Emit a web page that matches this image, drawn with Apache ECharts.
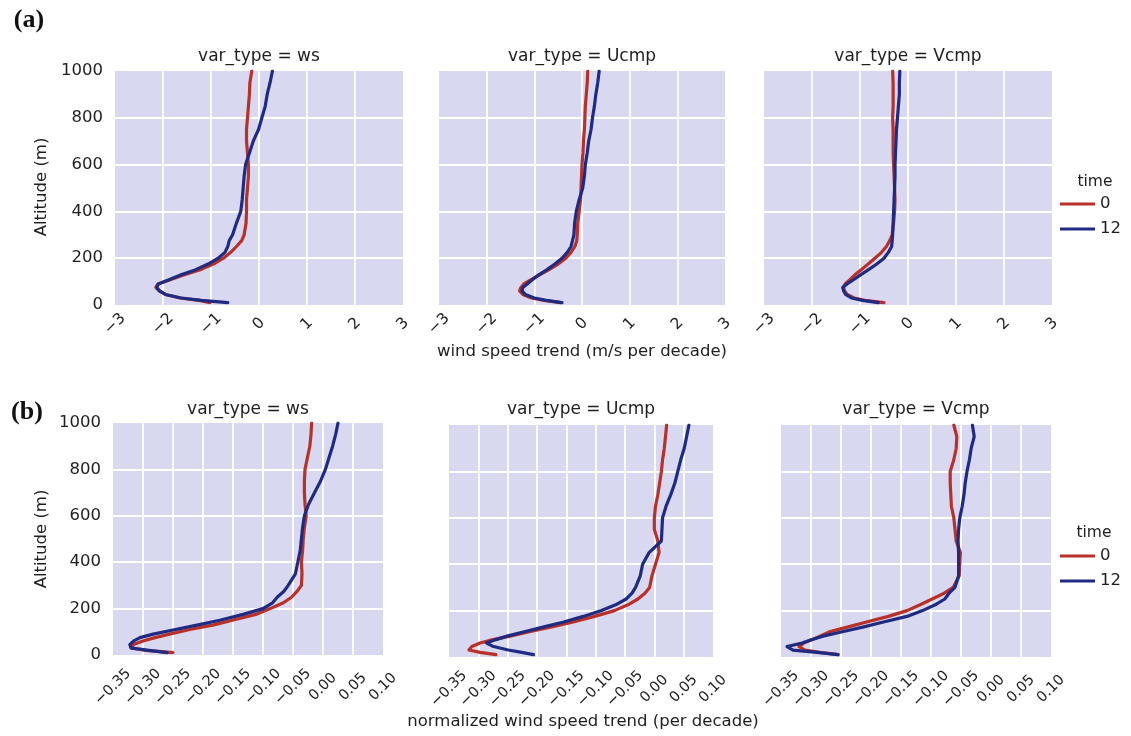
<!DOCTYPE html>
<html>
<head>
<meta charset="utf-8">
<script src="https://cdn.jsdelivr.net/npm/echarts@6/dist/echarts.min.js"></script>
<style>
html,body{margin:0;padding:0;background:#ffffff;}
#chart{width:1131px;height:736px;}
</style>
</head>
<body>
<div id="chart"></div>
<script>
// ---------------- DATA ----------------
const altitudes = [10,20,30,45,60,75,90,110,130,150,175,200,225,250,275,300,350,400,450,500,550,600,650,700,750,800,850,900,950,1000];
const varTypes = ['ws','Ucmp','Vcmp'];
const timeNames = ['0','12'];
const panelLabels = ['(a)','(b)'];
const xAxisNames = ['wind speed trend (m/s per decade)','normalized wind speed trend (per decade)'];
const yAxisName = 'Altitude (m)';
const legendTitle = 'time';

// (a) wind speed trend (m/s per decade)
const a_ws_t0   = [-1.02,-1.25,-1.65,-1.95,-2.08,-2.15,-2.10,-1.82,-1.54,-1.24,-0.95,-0.74,-0.59,-0.47,-0.36,-0.31,-0.27,-0.26,-0.26,-0.24,-0.22,-0.22,-0.24,-0.26,-0.26,-0.24,-0.22,-0.20,-0.19,-0.15];
const a_ws_t12  = [-0.65,-1.20,-1.62,-1.95,-2.07,-2.13,-2.10,-1.85,-1.61,-1.33,-1.06,-0.85,-0.71,-0.65,-0.62,-0.55,-0.47,-0.38,-0.35,-0.33,-0.31,-0.28,-0.20,-0.12,-0.01,0.06,0.13,0.17,0.23,0.28];
const a_U_t0    = [-0.45,-0.80,-1.06,-1.24,-1.31,-1.28,-1.22,-1.05,-0.88,-0.70,-0.50,-0.34,-0.23,-0.15,-0.11,-0.10,-0.09,-0.06,-0.03,-0.02,-0.01,0.00,0.02,0.03,0.05,0.06,0.07,0.09,0.11,0.12];
const a_U_t12   = [-0.42,-0.75,-1.00,-1.19,-1.26,-1.24,-1.15,-1.03,-0.90,-0.74,-0.57,-0.42,-0.31,-0.23,-0.20,-0.17,-0.155,-0.12,-0.06,0.015,0.05,0.07,0.11,0.14,0.19,0.22,0.26,0.29,0.33,0.36];
const a_V_t0    = [-0.50,-0.90,-1.12,-1.27,-1.32,-1.35,-1.31,-1.20,-1.10,-0.98,-0.83,-0.69,-0.55,-0.45,-0.38,-0.33,-0.30,-0.28,-0.27,-0.28,-0.29,-0.30,-0.31,-0.31,-0.31,-0.32,-0.31,-0.31,-0.31,-0.32];
const a_V_t12   = [-0.62,-0.95,-1.18,-1.30,-1.34,-1.36,-1.27,-1.12,-0.98,-0.83,-0.65,-0.50,-0.41,-0.34,-0.33,-0.32,-0.31,-0.30,-0.29,-0.28,-0.27,-0.27,-0.26,-0.25,-0.24,-0.22,-0.20,-0.18,-0.18,-0.17];

// (b) normalized wind speed trend (per decade)
const b_ws_t0   = [-0.250,-0.295,-0.318,-0.316,-0.300,-0.280,-0.256,-0.222,-0.182,-0.151,-0.112,-0.088,-0.066,-0.052,-0.043,-0.036,-0.035,-0.036,-0.034,-0.033,-0.031,-0.028,-0.030,-0.031,-0.031,-0.030,-0.026,-0.022,-0.020,-0.019];
const b_ws_t12  = [-0.260,-0.290,-0.320,-0.322,-0.316,-0.305,-0.283,-0.246,-0.208,-0.172,-0.133,-0.100,-0.084,-0.076,-0.065,-0.058,-0.046,-0.042,-0.038,-0.036,-0.034,-0.031,-0.024,-0.014,-0.004,0.004,0.010,0.016,0.021,0.025];
const b_U_t0    = [-0.270,-0.297,-0.316,-0.311,-0.297,-0.275,-0.246,-0.211,-0.175,-0.140,-0.102,-0.068,-0.045,-0.028,-0.016,-0.008,-0.004,0.002,0.008,0.006,0.000,0.000,0.002,0.006,0.009,0.012,0.014,0.017,0.019,0.021];
const b_U_t12   = [-0.206,-0.226,-0.249,-0.274,-0.286,-0.270,-0.251,-0.220,-0.188,-0.156,-0.121,-0.090,-0.066,-0.048,-0.038,-0.032,-0.024,-0.020,-0.009,0.012,0.013,0.014,0.020,0.028,0.035,0.040,0.045,0.051,0.055,0.059];
const b_V_t0    = [-0.255,-0.285,-0.310,-0.320,-0.312,-0.298,-0.285,-0.268,-0.238,-0.209,-0.171,-0.140,-0.118,-0.098,-0.078,-0.063,-0.053,-0.052,-0.051,-0.058,-0.060,-0.062,-0.066,-0.067,-0.068,-0.068,-0.062,-0.058,-0.057,-0.062];
const b_V_t12   = [-0.255,-0.290,-0.330,-0.340,-0.315,-0.298,-0.280,-0.246,-0.212,-0.181,-0.140,-0.114,-0.093,-0.077,-0.070,-0.060,-0.054,-0.054,-0.054,-0.055,-0.054,-0.052,-0.048,-0.045,-0.043,-0.040,-0.036,-0.033,-0.028,-0.031];

const rowA = [[a_ws_t0,a_ws_t12],[a_U_t0,a_U_t12],[a_V_t0,a_V_t12]];
const rowB = [[b_ws_t0,b_ws_t12],[b_U_t0,b_U_t12],[b_V_t0,b_V_t12]];

// ---------------- LAYOUT / STYLE ----------------
const RED = '#b93028';
const BLUE = '#1f2b82';
const BG = '#d8d8f0';
const TXT = '#1e1e1e';
const FONT = 'DejaVu Sans';

const gridsA = [
  {left:115, top:71, width:288, height:234},
  {left:439, top:71, width:286, height:234},
  {left:764, top:71, width:288, height:234}
];
const gridsB = [
  {left:113, top:423, width:270, height:232},
  {left:449, top:425, width:264, height:232},
  {left:781, top:425, width:270, height:232}
];

function fmtA(v){ const r = Math.round(v); return (r<0?'\u2212':'') + Math.abs(r); }
function fmtB(v){ const r = Math.round(v*100)/100; return (r<-1e-9?'\u2212':'') + Math.abs(r).toFixed(2); }
function fmtY(v){ return String(Math.round(v)); }

const grids = [], xAxes = [], yAxes = [], series = [], graphics = [];

function addPanel(g, idx, rowIsA, pair, showY) {
  grids.push(Object.assign({show:true, backgroundColor:BG, borderWidth:0, containLabel:false, outerBoundsMode:'none'}, g));
  xAxes.push({
    type:'value', gridIndex:idx,
    min: rowIsA ? -3 : -0.35, max: rowIsA ? 3 : 0.10, interval: rowIsA ? 1 : 0.05,
    axisLine:{show:false}, axisTick:{show:false},
    splitLine:{show:true, showMinLine:false, showMaxLine:false, lineStyle:{color:'#ffffff', width:1.8}},
    axisLabel:{
      rotate:45, align:'center', verticalAlign:'middle',
      margin: rowIsA ? 19 : 32,
      fontSize: rowIsA ? 15.5 : 14.5, fontFamily:FONT, color:TXT,
      showMinLabel:true, showMaxLabel:true,
      formatter: rowIsA ? fmtA : fmtB
    }
  });
  yAxes.push({
    type:'value', gridIndex:idx, min:0, max:1000, interval:200,
    axisLine:{show:false}, axisTick:{show:false},
    splitLine:{show:true, showMinLine:false, showMaxLine:false, lineStyle:{color:'#ffffff', width:1.8}},
    axisLabel:{show:showY, margin:12, fontSize:16.5, fontFamily:FONT, color:TXT, formatter:fmtY}
  });
  [RED, BLUE].forEach((col, k) => {
    series.push({
      type:'line', name:timeNames[k], xAxisIndex:idx, yAxisIndex:idx,
      data: altitudes.map((a,i)=>[pair[k][i], a]),
      symbol:'none', showSymbol:false, smooth:false, silent:true,
      lineStyle:{color:col, width:3.2, join:'round', cap:'round'}, itemStyle:{color:col},
      z: 2 + k
    });
  });
}

gridsA.forEach((g,i)=>addPanel(g, i, true, rowA[i], i===0));
gridsB.forEach((g,i)=>addPanel(g, 3+i, false, rowB[i], i===0));

function txt(x, y, text, font, fill) {
  graphics.push({
    type:'text', x:x, y:y,
    style:{text:text, fill:fill||TXT, font:font||'16.5px "DejaVu Sans"', textAlign:'center', textVerticalAlign:'middle'}
  });
}

// panel titles
gridsA.forEach((g,i)=>txt(g.left+g.width/2, 57, 'var_type = ' + varTypes[i], '17px "DejaVu Sans"'));
gridsB.forEach((g,i)=>txt(g.left+g.width/2, 410, 'var_type = ' + varTypes[i], '17px "DejaVu Sans"'));
// panel labels
txt(29, 20, panelLabels[0], 'bold 26px "Liberation Serif"', '#111');
txt(27, 412, panelLabels[1], 'bold 26px "Liberation Serif"', '#111');
// axis names
txt(582, 352, xAxisNames[0]);
txt(583, 722, xAxisNames[1]);
graphics.push({type:'text', x:42, y:187, rotation:Math.PI/2,
  style:{text:yAxisName, fill:TXT, font:'16.5px "DejaVu Sans"', textAlign:'center', textVerticalAlign:'middle'}});
graphics.push({type:'text', x:42, y:539, rotation:Math.PI/2,
  style:{text:yAxisName, fill:TXT, font:'16.5px "DejaVu Sans"', textAlign:'center', textVerticalAlign:'middle'}});
// legend titles
txt(1095, 182, legendTitle, '15.5px "DejaVu Sans"');
txt(1094, 533, legendTitle, '15.5px "DejaVu Sans"');

const legendCommon = {
  orient:'vertical', icon:'rect', itemWidth:35, itemHeight:3, itemGap:5, padding:0,
  selectedMode:false,
  textStyle:{fontSize:16.5, fontFamily:FONT, color:TXT, lineHeight:20},
  data: timeNames
};

const option = {
  backgroundColor:'#ffffff',
  animation:false,
  textStyle:{fontFamily:FONT},
  grid: grids,
  xAxis: xAxes,
  yAxis: yAxes,
  series: series,
  legend: [
    Object.assign({left:1060, top:194}, legendCommon),
    Object.assign({left:1060, top:546}, legendCommon)
  ],
  graphic: graphics
};

const chart = echarts.init(document.getElementById('chart'), null, {renderer:'canvas'});
chart.setOption(option);
</script>
</body>
</html>
